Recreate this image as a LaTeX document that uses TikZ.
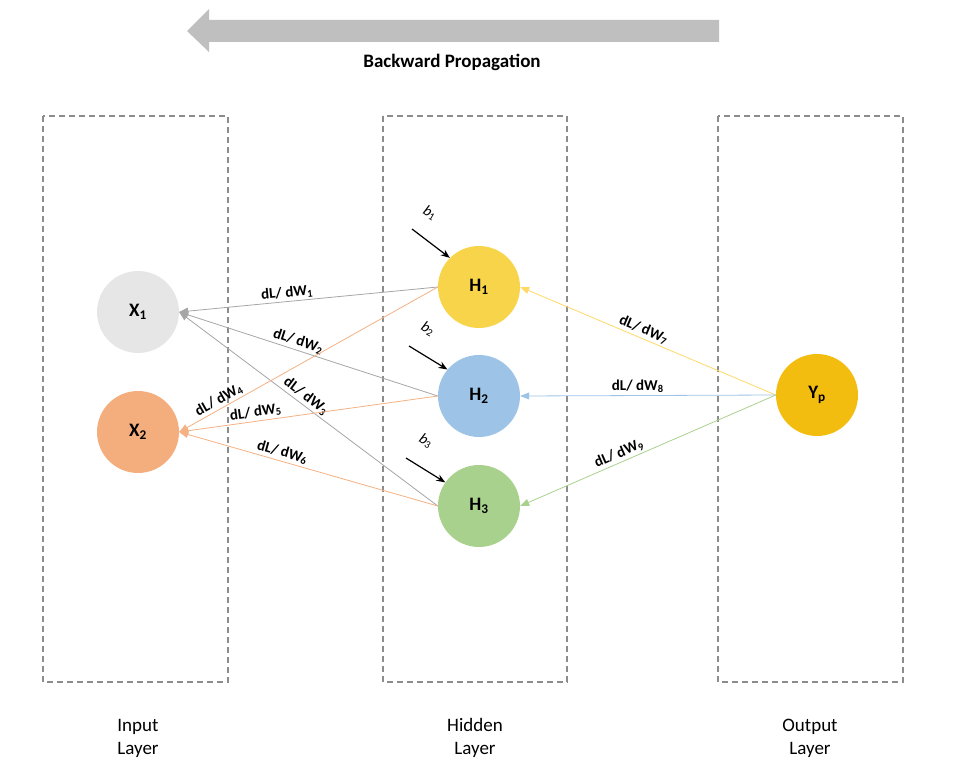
\documentclass[tikz,border=0pt]{standalone}
\usepackage{fontspec}
\setmainfont{Carlito}
\usetikzlibrary{arrows.meta}

\definecolor{xone}{HTML}{E7E6E6}
\definecolor{xtwo}{HTML}{F4AE7E}
\definecolor{hone}{HTML}{F8D44A}
\definecolor{htwo}{HTML}{9DC3E6}
\definecolor{hthree}{HTML}{A9D18E}
\definecolor{yout}{HTML}{F3BD0F}
\definecolor{edgegray}{HTML}{A6A6A6}
\definecolor{edgeorange}{HTML}{F4B183}
\definecolor{edgeyellow}{HTML}{FFD966}
\definecolor{bigarrow}{HTML}{BFBFBF}

\begin{document}
\begin{tikzpicture}[x=1pt,y=-1pt,
        neuron/.style={circle,minimum size=82pt,inner sep=0pt,font=\fontsize{19}{22}\selectfont\bfseries},
        layer/.style={draw=gray!90,line width=1.5pt,dash pattern=on 6pt off 4pt},
        grad/.style={-{Triangle[length=9pt,width=7pt]},line width=0.8pt},
        wlab/.style={font=\fontsize{15}{18}\selectfont\bfseries,sloped,above,inner sep=2pt},
        bias/.style={-{Stealth[length=9pt,width=7pt]},line width=1.2pt,black},
        blab/.style={font=\fontsize{15}{18}\selectfont,rotate=-30,inner sep=1pt},
        caption/.style={align=center,font=\fontsize{19}{23}\selectfont}]
        \useasboundingbox (0,0) rectangle (953,773);
		% big arrow on top
		\fill[bigarrow] (719,20) -- (209,20) -- (209,9) -- (187,31) -- (209,52) -- (209,42) -- (719,42) -- cycle;
		\node [font=\fontsize{19}{22}\selectfont\bfseries] (title) at (452,62) {Backward Propagation};
		% layers
		\draw [layer] (43,116) rectangle (228,682);
		\draw [layer] (383,116) rectangle (567,682);
		\draw [layer] (718,116) rectangle (903,682);
		\node [caption] (inlab) at (138,738) {Input\\Layer};
		\node [caption] (hidlab) at (475,738) {Hidden\\Layer};
		\node [caption] (outlab) at (810,738) {Output\\Layer};
		% neurons
		\node [neuron,fill=xone] (X1) at (138,312) {X\textsubscript{1}};
		\node [neuron,fill=xtwo] (X2) at (138,432) {X\textsubscript{2}};
		\node [neuron,fill=hone] (H1) at (479,287) {H\textsubscript{1}};
		\node [neuron,fill=htwo] (H2) at (479,396) {H\textsubscript{2}};
		\node [neuron,fill=hthree] (H3) at (479,506) {H\textsubscript{3}};
		\node [neuron,fill=yout] (Yp) at (817,395) {Y\textsubscript{p}};
		% gradients to input layer
		\draw [grad,edgegray] (H1.west) -- node[wlab,pos=0.58,black] {dL/ dW\textsubscript{1}} (X1.east);
		\draw [grad,edgegray] (H2.west) -- node[wlab,pos=0.55,black] {dL/ dW\textsubscript{2}} (X1.east);
		\draw [grad,edgegray] (H3.west) -- node[wlab,pos=0.53,black] {dL/ dW\textsubscript{3}} (X1.east);
		\draw [grad,edgeorange] (H1.west) -- node[wlab,pos=0.83,black] {dL/ dW\textsubscript{4}} (X2.east);
		\draw [grad,edgeorange] (H2.west) -- node[wlab,pos=0.70,black] {dL/ dW\textsubscript{5}} (X2.east);
		\draw [grad,edgeorange] (H3.west) -- node[wlab,pos=0.61,black] {dL/ dW\textsubscript{6}} (X2.east);
		% gradients to hidden layer
		\draw [grad,edgeyellow] (Yp.west) -- node[wlab,pos=0.53,black] {dL/ dW\textsubscript{7}} (H1.east);
		\draw [grad,htwo] (Yp.west) -- node[wlab,pos=0.54,black] {dL/ dW\textsubscript{8}} (H2.east);
		\draw [grad,hthree] (Yp.west) -- node[wlab,pos=0.60,black] {dL/ dW\textsubscript{9}} (H3.east);
		% biases
		\coordinate (b1) at (412,229);
		\coordinate (b2) at (409,346);
		\coordinate (b3) at (406,458);
		\draw [bias] (b1) -- (H1.135);
		\draw [bias] (b2) -- (H2.140);
		\draw [bias] (b3) -- (H3.145);
		\node [blab] (b1lab) at (430,213) {\textit{b}\textsubscript{1}};
		\node [blab] (b2lab) at (428,329) {\textit{b}\textsubscript{2}};
		\node [blab] (b3lab) at (426,441) {\textit{b}\textsubscript{3}};
\end{tikzpicture}
\end{document}
